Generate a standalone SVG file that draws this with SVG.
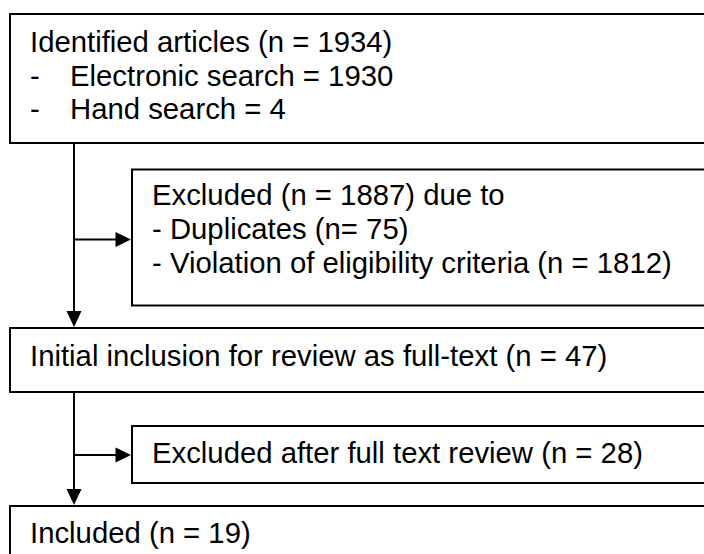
<svg xmlns="http://www.w3.org/2000/svg" width="704" height="554" viewBox="0 0 704 554">
<defs>
<style>
.box{fill:#fff;stroke:#000;stroke-width:2}
.t{font-family:"Liberation Sans",Arial,sans-serif;font-size:29.3px;fill:#000}
.ln{stroke:#000;stroke-width:2;fill:none}
.ah{fill:#000;stroke:none}
</style>
</defs>
<rect width="704" height="554" fill="#fff"/>
<g id="connectors">
<line class="ln" x1="74" y1="143" x2="74" y2="313"/>
<polygon class="ah" points="66.5,311 81.5,311 74,327"/>
<line class="ln" x1="74" y1="239.5" x2="117" y2="239.5"/>
<polygon class="ah" points="115.5,232 115.5,247 131,239.5"/>
<line class="ln" x1="74" y1="392" x2="74" y2="491"/>
<polygon class="ah" points="66.5,489 81.5,489 74,505"/>
<line class="ln" x1="74" y1="455" x2="117" y2="455"/>
<polygon class="ah" points="115.5,447.5 115.5,462.5 131,455"/>
</g>
<g id="identified">
<rect class="box" x="10" y="14" width="720" height="129"/>
<text class="t" x="30" y="52">Identified articles (n = 1934)</text>
<text class="t" x="30" y="85.5">-</text>
<text class="t" x="70" y="85.5">Electronic search = 1930</text>
<text class="t" x="30" y="119">-</text>
<text class="t" x="70" y="119">Hand search = 4</text>
</g>
<g id="excluded1">
<rect class="box" x="132" y="169.5" width="600" height="136"/>
<text class="t" x="152" y="205">Excluded (n = 1887) due to</text>
<text class="t" x="152" y="239">- Duplicates (n= 75)</text>
<text class="t" x="152" y="272.5">- Violation of eligibility criteria (n = 1812)</text>
</g>
<g id="initial">
<rect class="box" x="10" y="328" width="720" height="64"/>
<text class="t" x="30" y="366">Initial inclusion for review as full-text (n = 47)</text>
</g>
<g id="excluded2">
<rect class="box" x="132" y="426" width="600" height="57"/>
<text class="t" x="152" y="463">Excluded after full text review (n = 28)</text>
</g>
<g id="included">
<rect class="box" x="10" y="506" width="720" height="80"/>
<text class="t" x="30" y="543">Included (n = 19)</text>
</g>
</svg>
